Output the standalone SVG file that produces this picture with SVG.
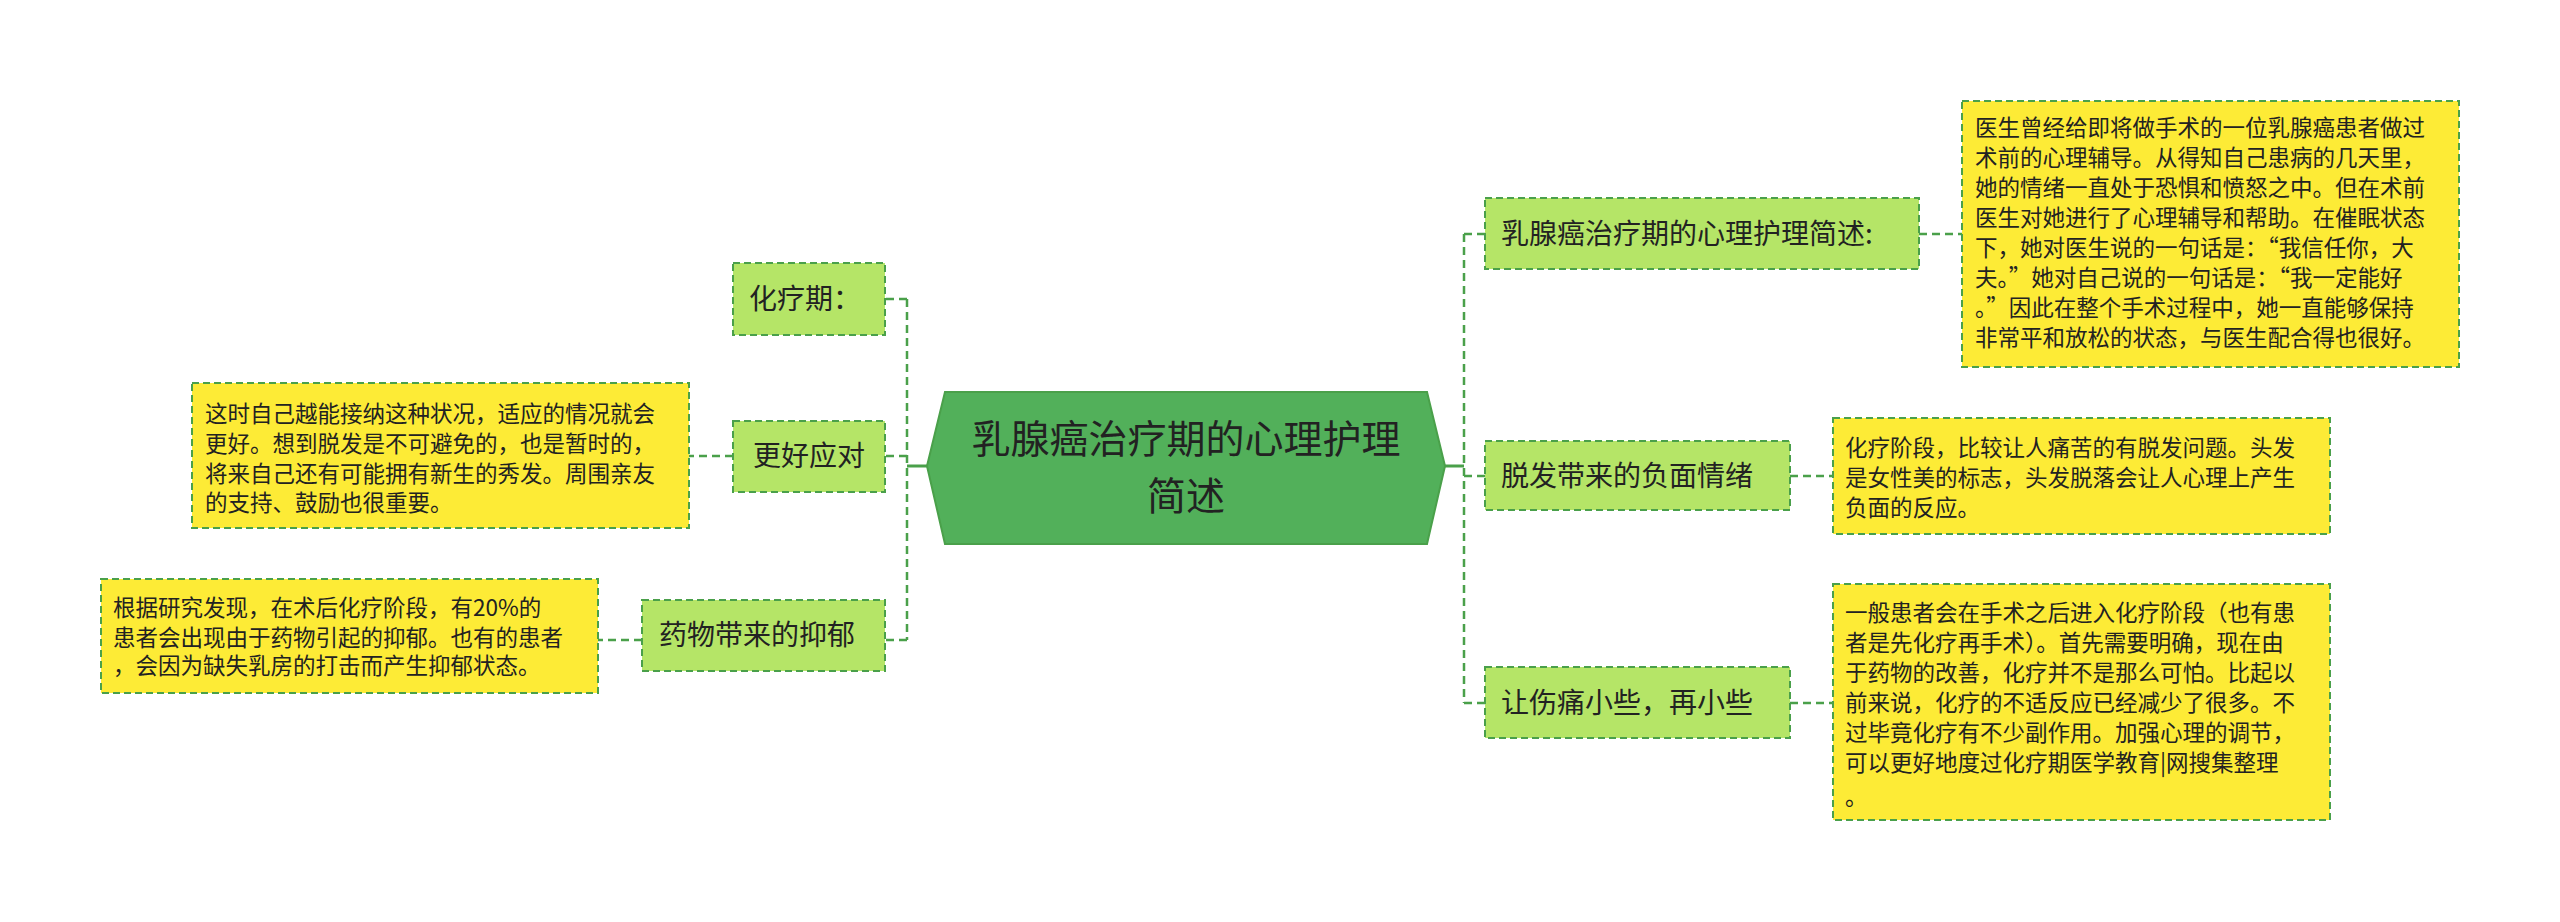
<svg xmlns="http://www.w3.org/2000/svg" width="2560" height="922" viewBox="0 0 2560 922">
<style>
text{font-family:"Noto Sans CJK SC","Liberation Sans",sans-serif;fill:#222}
.sub{fill:#b5e567;stroke:#4aa04a;stroke-width:2;stroke-dasharray:7 4}
.box{fill:#fdeb36;stroke:#4aa04a;stroke-width:2;stroke-dasharray:7 4}
.c{fill:none;stroke:#4aa04a;stroke-width:2.5;stroke-dasharray:8 5}
.s{font-size:28px}
.t{font-size:22.5px}
</style>
<rect width="2560" height="922" fill="#fff"/>
<g id="connectors">
<path d="M927 466H907M1445 466H1464" fill="none" stroke="#4aa04a" stroke-width="3"/>
<path class="c" d="M907 299V640M907 299H885M907 456H885M907 640H885"/>
<path class="c" d="M1464 234V703M1464 234H1485M1464 476H1485M1464 703H1485"/>
<path class="c" d="M733 456H689M642 640H598M1919 234H1962M1790 476H1833M1790 703H1833"/>
</g>
<g id="center">
<polygon points="945,392 1427,392 1445,466 1427,544 945,544 927,466" fill="#52b05a" stroke="#4aa04a" stroke-width="2"/>
<text x="1186" y="453" font-size="39" text-anchor="middle">乳腺癌治疗期的心理护理</text>
<text x="1186" y="510" font-size="39" text-anchor="middle">简述</text>
</g>
<g id="n-hualiaoqi"><rect class="sub" x="733" y="263" width="152" height="72"/><text class="s" x="749" y="309">化疗期：</text></g>
<g id="n-genghao"><rect class="sub" x="733" y="421" width="152" height="71"/><text class="s" x="753" y="466">更好应对</text></g>
<g id="n-yaowu"><rect class="sub" x="642" y="600" width="243" height="71"/><text class="s" x="659" y="645">药物带来的抑郁</text></g>
<g id="b-genghao"><rect class="box" x="192" y="383" width="497" height="145"/>
<text class="t" x="205"><tspan x="205" y="422">这时自己越能接纳这种状况，适应的情况就会</tspan><tspan x="205" y="452">更好。想到脱发是不可避免的，也是暂时的，</tspan><tspan x="205" y="482">将来自己还有可能拥有新生的秀发。周围亲友</tspan><tspan x="205" y="511">的支持、鼓励也很重要。</tspan></text></g>
<g id="b-yaowu"><rect class="box" x="101" y="579" width="497" height="114"/>
<text class="t"><tspan x="113" y="616">根据研究发现，在术后化疗阶段，有20%的</tspan><tspan x="113" y="646">患者会出现由于药物引起的抑郁。也有的患者</tspan><tspan x="113" y="674">，会因为缺失乳房的打击而产生抑郁状态。</tspan></text></g>
<g id="n-shuping"><rect class="sub" x="1485" y="198" width="434" height="71"/><text class="s" x="1501" y="244">乳腺癌治疗期的心理护理简述:</text></g>
<g id="n-tuofa"><rect class="sub" x="1485" y="441" width="305" height="69"/><text class="s" x="1501" y="486">脱发带来的负面情绪</text></g>
<g id="n-shangtong"><rect class="sub" x="1485" y="667" width="305" height="71"/><text class="s" x="1501" y="713">让伤痛小些，再小些</text></g>
<g id="b-yisheng"><rect class="box" x="1962" y="101" width="497" height="266"/>
<text class="t"><tspan x="1975" y="136">医生曾经给即将做手术的一位乳腺癌患者做过</tspan><tspan x="1975" y="166">术前的心理辅导。从得知自己患病的几天里，</tspan><tspan x="1975" y="196">她的情绪一直处于恐惧和愤怒之中。但在术前</tspan><tspan x="1975" y="226">医生对她进行了心理辅导和帮助。在催眠状态</tspan><tspan x="1975" y="256">下，她对医生说的一句话是：“我信任你，大</tspan><tspan x="1975" y="286">夫。”她对自己说的一句话是：“我一定能好</tspan><tspan x="1975" y="316">。”因此在整个手术过程中，她一直能够保持</tspan><tspan x="1975" y="346">非常平和放松的状态，与医生配合得也很好。</tspan></text></g>
<g id="b-tuofa"><rect class="box" x="1833" y="418" width="497" height="116"/>
<text class="t"><tspan x="1845" y="456">化疗阶段，比较让人痛苦的有脱发问题。头发</tspan><tspan x="1845" y="486">是女性美的标志，头发脱落会让人心理上产生</tspan><tspan x="1845" y="516">负面的反应。</tspan></text></g>
<g id="b-shangtong"><rect class="box" x="1833" y="584" width="497" height="236"/>
<text class="t"><tspan x="1845" y="621">一般患者会在手术之后进入化疗阶段（也有患</tspan><tspan x="1845" y="651">者是先化疗再手术）。首先需要明确，现在由</tspan><tspan x="1845" y="681">于药物的改善，化疗并不是那么可怕。比起以</tspan><tspan x="1845" y="711">前来说，化疗的不适反应已经减少了很多。不</tspan><tspan x="1845" y="741">过毕竟化疗有不少副作用。加强心理的调节，</tspan><tspan x="1845" y="771">可以更好地度过化疗期医学教育|网搜集整理</tspan><tspan x="1845" y="805">。</tspan></text></g>
</svg>
